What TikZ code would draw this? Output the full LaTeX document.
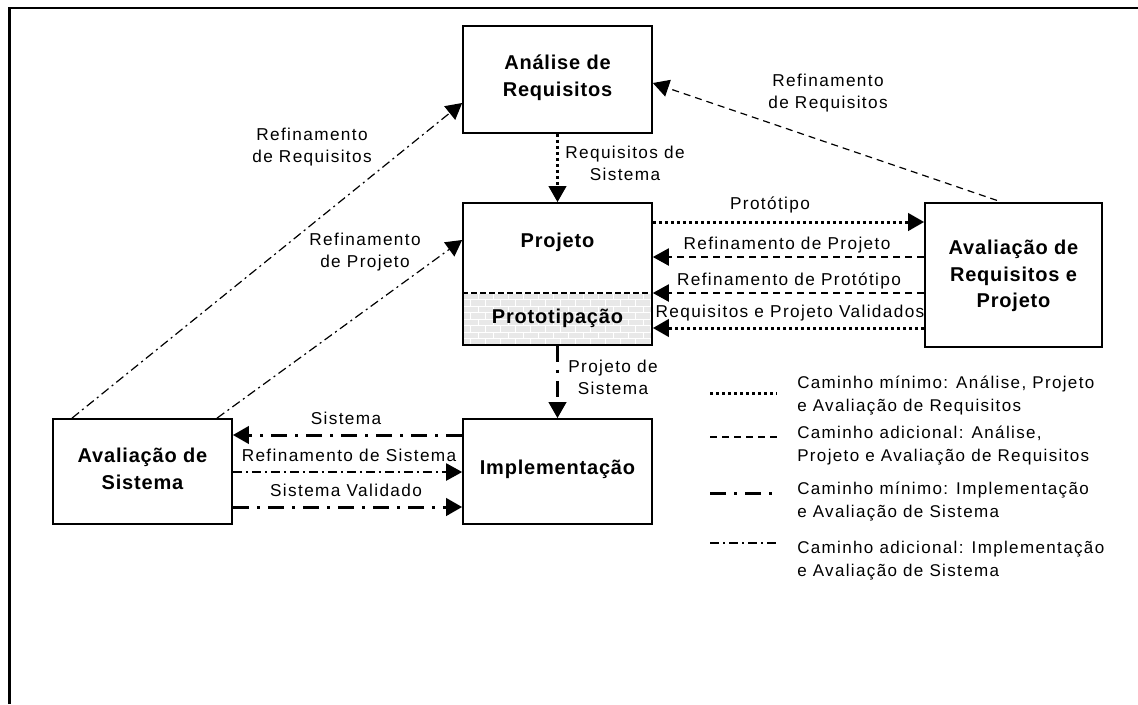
\documentclass[tikz,border=0pt]{standalone}
\usepackage{fontspec}
\setmainfont{Liberation Sans}[LetterSpace=8]
\newfontfamily\boxfont{Liberation Sans Bold}[LetterSpace=4]
\usetikzlibrary{arrows.meta,calc}

\tikzset{
  box/.style={draw, line width=1.3pt, inner sep=0pt},
  boxtxt/.style={font=\boxfont\fontsize{15}{20}\selectfont, align=center, inner sep=0pt},
  lbl/.style={font=\fontsize{12.9}{16.5}\selectfont, align=center, inner sep=0pt},
  legtxt/.style={font=\fontsize{12.75}{17.25}\selectfont, align=left, anchor=west, inner sep=0pt},
  tip/.style={-{Triangle[length=12pt,width=13pt]}},
  % minimal path, analysis/design/requirements evaluation
  minA/.style={line width=2.25pt, dash pattern=on 2.4pt off 2.1pt},
  % additional path, analysis/design/requirements evaluation
  addA/.style={line width=0.9pt, dash pattern=on 5.25pt off 3.75pt},
  % minimal path, implementation/system evaluation
  minS/.style={line width=2.25pt, dash pattern=on 12pt off 6pt on 2.25pt off 6pt},
  % additional path, implementation/system evaluation
  addS/.style={line width=0.9pt, dash pattern=on 6.75pt off 3pt on 1.5pt off 3pt},
}

\begin{document}
\begin{tikzpicture}[x=0.75pt, y=-0.75pt]
\useasboundingbox (0,0) rectangle (1138,704);
\fill[white] (0,0) rectangle (1138,704);

% outer frame (top and left edges)
\draw[line width=2pt, line join=miter] (9.3,704) -- (9.3,8) -- (1138,8);

% brick texture of the prototyping area
\begin{scope}
  \clip (463,293) rectangle (652,345);
  \fill[black!9] (463,293) rectangle (652,345);
  \foreach \r in {0,...,8} {
    \draw[white, line width=0.75pt] (463,{293+\r*6.5}) -- (652,{293+\r*6.5});
    \foreach \c in {0,...,13} {
      \draw[white, line width=0.75pt] ({463+\c*15+mod(\r,2)*7.5},{293+\r*6.5}) -- ++(0,6.5);
    }
  }
\end{scope}

% boxes
\node[box, minimum width=141.75pt, minimum height=80.25pt] (ana) at (557.5,79.5) {};
\node[box, minimum width=141.75pt, minimum height=106.5pt] (proj) at (557.5,274) {};
\node[box, minimum width=132.75pt, minimum height=108pt] (arp) at (1013.5,275) {};
\node[box, minimum width=141.75pt, minimum height=78.75pt] (impl) at (557.5,471.5) {};
\node[box, minimum width=134.25pt, minimum height=78.75pt] (avs) at (142.5,471.5) {};
\draw[line width=0.9pt, dash pattern=on 4.5pt off 2.25pt] (proj.west |- 0,293) -- (proj.east |- 0,293);

% box titles
\node[boxtxt] (anaT) at (557.5,78) {Análise de\\Requisitos};
\node[boxtxt] (projT) at (557.5,242) {Projeto};
\node[boxtxt] (protT) at (557.5,318) {Prototipação};
\node[boxtxt] (arpT) at (1013.5,276) {Avaliação de\\Requisitos e\\Projeto};
\node[boxtxt] (implT) at (557.5,469) {Implementação};
\node[boxtxt] (avsT) at (142.5,469) {Avaliação de\\Sistema};

% connectors
\draw[minA, tip] (ana.south) -- (proj.north);
\node[lbl] (l1) at (625,163) {Requisitos de\\Sistema};

\draw[minA, tip] (proj.east |- 0,222) -- (arp.west |- 0,222);
\node[lbl] (l2) at (770,205) {Protótipo};

\draw[addA, tip] (arp.west |- 0,257) -- (proj.east |- 0,257);
\node[lbl] (l3) at (787,245) {Refinamento de Projeto};

\draw[addA, tip] (arp.west |- 0,293) -- (proj.east |- 0,293);
\node[lbl] (l4) at (789,281) {Refinamento de Protótipo};

\draw[minA, tip] (arp.west |- 0,328) -- (proj.east |- 0,328);
\node[lbl] (l5) at (790,313) {Requisitos e Projeto Validados};

\draw[minS, tip] (proj.south) -- (impl.north);
\node[lbl] (l6) at (613,377) {Projeto de\\Sistema};

\draw[minS, tip] (impl.west |- 0,435) -- (avs.east |- 0,435);
\node[lbl] (l7) at (346,418) {Sistema};

\draw[addS, tip] (avs.east |- 0,472) -- (impl.west |- 0,472);
\node[lbl] (l8) at (349,455) {Refinamento de Sistema};

\draw[minS, tip] (avs.east |- 0,507) -- (impl.west |- 0,507);
\node[lbl] (l9) at (346,490) {Sistema Validado};

\draw[addS, tip] (72,0 |- avs.north) -- (ana.west |- 0,103);
\node[lbl] (l10) at (312,147) {Refinamento\\de Requisitos};

\draw[addS, tip] (217,0 |- avs.north) -- (proj.west |- 0,240);
\node[lbl] (l11) at (365,252) {Refinamento\\de Projeto};

\draw[addA, tip, shorten <=4pt] (1002,0 |- arp.north) -- (ana.east |- 0,83);
\node[lbl] (l12) at (828,93) {Refinamento\\de Requisitos};

% legend
\coordinate (k1a) at (710,393); \coordinate (k1b) at (777,393);
\coordinate (k2a) at (710,437); \coordinate (k2b) at (777,437);
\coordinate (k3a) at (710,493); \coordinate (k3b) at (777,493);
\coordinate (k4a) at (710,543); \coordinate (k4b) at (777,543);
\draw[minA] (k1a) -- (k1b);
\draw[addA] (k2a) -- (k2b);
\draw[minS] (k3a) -- (k3b);
\draw[addS] (k4a) -- (k4b);
\node[legtxt] (t1) at (797,396) {Caminho mínimo: Análise, Projeto\\e Avaliação de Requisitos};
\node[legtxt] (t2) at (797,446) {Caminho adicional: Análise,\\Projeto e Avaliação de Requisitos};
\node[legtxt] (t3) at (797,501.5) {Caminho mínimo: Implementação\\e Avaliação de Sistema};
\node[legtxt] (t4) at (797,561) {Caminho adicional: Implementação\\e Avaliação de Sistema};
\end{tikzpicture}
\end{document}
